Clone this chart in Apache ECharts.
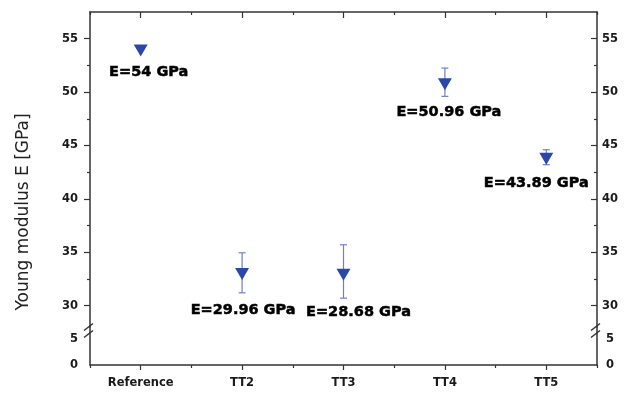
<!DOCTYPE html>
<html>
<head>
<meta charset="utf-8">
<script src="https://cdn.jsdelivr.net/npm/echarts@6/dist/echarts.min.js"></script>
<style>
html,body{margin:0;padding:0;background:#fff;}
#chart{width:627px;height:393px;}
</style>
</head>
<body>
<div id="chart"></div>
<script>
// ---- data ----
const categories = ['Reference', 'TT2', 'TT3', 'TT4', 'TT5'];
const modulus = [53.9, 32.97, 32.9, 50.74, 43.75];
const errLow = [null, 31.2, 30.7, 49.6, 43.2];
const errHigh = [null, 34.95, 35.7, 52.25, 44.6];
const annotations = ['E=54 GPa', 'E=29.96 GPa', 'E=28.68 GPa', 'E=50.96 GPa', 'E=43.89 GPa'];
const upperTicks = [30, 35, 40, 45, 50, 55];
const upperMinorTicks = [32.5, 37.5, 42.5, 47.5, 52.5];
const lowerTicks = [0, 5];
const yTitle = 'Young modulus E [GPa]';

// ---- style ----
const labelOffsets = [[8, 22], [1, 36], [15, 38], [4, 28], [-10, 24]];
const axisColor = '#333';
const textColor = '#1a1a1a';
const tickFont = { fontFamily: 'DejaVu Sans', fontWeight: 'bold', fontSize: 11.5, color: textColor };
const L = 90, R = 30, W = 627, TOP = 12, UPPER_H = 315, LOWER_TOP = 327, LOWER_H = 38;

const chart = echarts.init(document.getElementById('chart'), null, { renderer: 'canvas' });

function lineAxis(show) {
  return { show: show, onZero: false, lineStyle: { color: axisColor, width: 1.5 } };
}

const upperY = (pos, minor) => ({
  type: 'value', gridIndex: 0, position: pos, min: 28, max: 57.5,
  axisLine: lineAxis(!minor),
  splitLine: { show: false },
  axisTick: {
    show: true, inside: pos === 'right', length: minor ? 3 : 6,
    customValues: minor ? upperMinorTicks : upperTicks,
    lineStyle: { color: axisColor, width: 1.2 }
  },
  axisLabel: minor ? { show: false } :
    Object.assign({ show: true, customValues: upperTicks, margin: pos === 'left' ? 12 : 5 }, tickFont)
});

const lowerY = (pos) => ({
  type: 'value', gridIndex: 1, position: pos, min: 0, max: 7.2,
  axisLine: lineAxis(true),
  splitLine: { show: false },
  axisTick: { show: false },
  axisLabel: Object.assign({ show: true, customValues: lowerTicks, margin: pos === 'left' ? 12 : 9 }, tickFont)
});

const catX = (grid, pos, major, showLine, showLabel) => ({
  type: 'category', gridIndex: grid, position: pos, data: categories,
  boundaryGap: true,
  axisLine: lineAxis(showLine),
  splitLine: { show: false },
  axisTick: {
    show: true, alignWithLabel: major, inside: pos === 'top',
    length: major ? (pos === 'top' ? 6 : 5) : 3,
    lineStyle: { color: axisColor, width: 1.2 }
  },
  axisLabel: showLabel ? Object.assign({ show: true, margin: 12, interval: 0 }, tickFont) : { show: false }
});

function breakMarks(x) {
  return [327, 334].map(cy => ({
    type: 'line',
    shape: { x1: x - 1.5 - 4.5, y1: cy + 3.5, x2: x - 1.5 + 4.5, y2: cy - 3.5 },
    style: { stroke: axisColor, lineWidth: 1.5 },
    z: 100
  }));
}

const option = {
  animation: false,
  backgroundColor: '#fff',
  grid: [
    { left: L, right: R, top: TOP, height: UPPER_H },
    { left: L, right: R, top: LOWER_TOP, height: LOWER_H }
  ],
  xAxis: [
    catX(0, 'top', true, true, false),
    catX(0, 'top', false, false, false),
    catX(1, 'bottom', true, true, true),
    catX(1, 'bottom', false, false, false)
  ],
  yAxis: [
    upperY('left', false),
    upperY('left', true),
    upperY('right', false),
    upperY('right', true),
    lowerY('left'),
    lowerY('right')
  ],
  graphic: [
    {
      type: 'text', x: 24, y: 212, rotation: Math.PI / 2,
      style: {
        text: yTitle, fill: '#222', font: '17px "DejaVu Sans"',
        textAlign: 'center', textVerticalAlign: 'middle'
      }
    }
  ].concat(breakMarks(L), breakMarks(W - R)),
  series: [
    {
      type: 'custom', xAxisIndex: 0, yAxisIndex: 0, z: 2,
      data: categories.map((c, i) => [i, errLow[i], errHigh[i]]).filter(d => d[1] != null),
      renderItem: function (params, api) {
        const x = api.value(0);
        const lo = api.coord([x, api.value(1)]);
        const hi = api.coord([x, api.value(2)]);
        const w = 3.5;
        const st = { stroke: '#6f80c6', lineWidth: 1.2 };
        return {
          type: 'group', children: [
            { type: 'line', shape: { x1: lo[0], y1: lo[1], x2: hi[0], y2: hi[1] }, style: st },
            { type: 'line', shape: { x1: lo[0] - w, y1: lo[1], x2: lo[0] + w, y2: lo[1] }, style: st },
            { type: 'line', shape: { x1: hi[0] - w, y1: hi[1], x2: hi[0] + w, y2: hi[1] }, style: st }
          ]
        };
      }
    },
    {
      type: 'scatter', xAxisIndex: 0, yAxisIndex: 0, z: 3,
      symbol: 'triangle', symbolRotate: 180, symbolSize: [14, 12],
      itemStyle: { color: '#2b48a8', opacity: 1 },
      data: modulus.map((v, i) => ({ value: v, label: { offset: labelOffsets[i] } })),
      label: {
        show: true, position: 'inside',
        formatter: p => annotations[p.dataIndex],
        fontFamily: 'DejaVu Sans', fontWeight: 'bold', fontSize: 14.5,
        color: '#000', textBorderColor: '#000', textBorderWidth: 0.5, opacity: 1
      }
    }
  ]
};
chart.setOption(option);
</script>
</body>
</html>
